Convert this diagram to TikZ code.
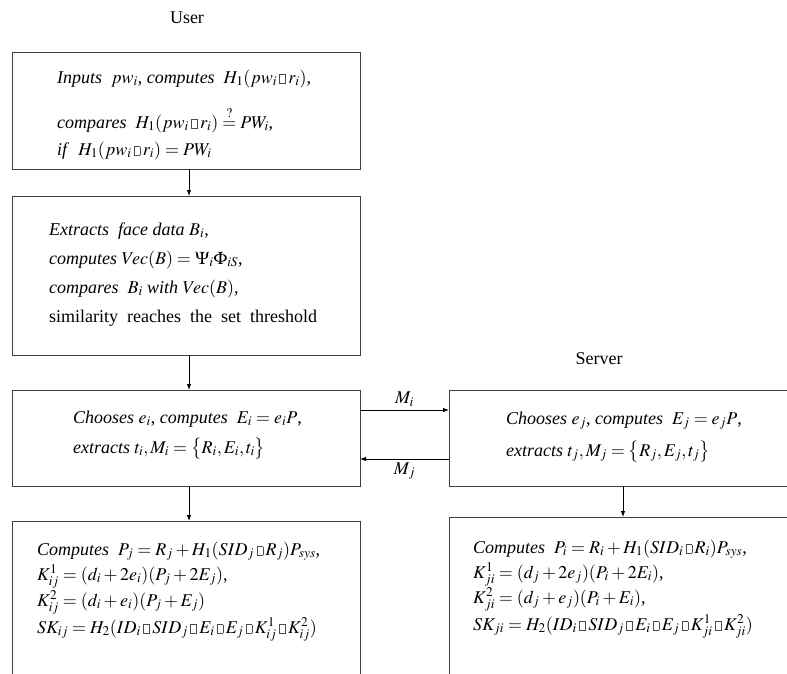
\documentclass[tikz,border=0pt]{standalone}
\usepackage{mathptmx}
\usepackage[no-math]{fontspec}
\setmainfont{Liberation Serif}
\usetikzlibrary{arrows.meta}
\newcommand{\fs}{\fontsize{18}{22}\selectfont}
\newcommand{\cc}{\mathbin{{\color{black!70}\fboxsep=0pt\fboxrule=0.5pt\fbox{\rule{0pt}{0.45em}\hspace{0.3em}}}}}
\begin{document}
\begin{tikzpicture}[x=1pt,y=-1pt,
  box/.style={draw=black!75,line width=0.9pt,inner sep=0,outer sep=0},
  txt/.style={anchor=base west,inner sep=0,font=\fs},
  lbl/.style={anchor=base,inner sep=0,font=\fs},
  arr/.style={-{Latex[length=6pt,width=4.5pt]},line width=0.8pt}]
\useasboundingbox (0,0) rectangle (787,673);
\clip (0,0) rectangle (787,673);
% boxes
\node[box,minimum width=348,minimum height=117] (b1) at (186,110.5) {};
\node[box,minimum width=348,minimum height=159] (b2) at (186,275.5) {};
\node[box,minimum width=348,minimum height=96] (b3) at (186,438) {};
\node[box,minimum width=361,minimum height=96] (b4) at (629.5,438) {};
\node[box,minimum width=348,minimum height=179] (b5) at (186,610.5) {};
\node[box,minimum width=361,minimum height=183] (b6) at (629.5,608.5) {};
% titles
\node[lbl] (user) at (187,23) {User};
\node[lbl] (server) at (599,364) {Server};
% box 1
\node[txt] (t11) at (57,83) {\textit{Inputs}~ $pw_i$, \textit{computes}~ $H_1(pw_i\cc r_i)$,};
\node[txt] (t12) at (57,128) {\textit{compares}~ $H_1(pw_i\cc r_i)\stackrel{?}{=}PW_i$,};
\node[txt] (t13) at (57,155) {\textit{if}~ $H_1(pw_i\cc r_i)=PW_i$};
% box 2
\node[txt] (t21) at (49,235) {\textit{Extracts}~ \textit{face data} $B_i$,};
\node[txt] (t22) at (49,264) {\textit{computes} $Vec(B)=\Psi_i\Phi_{iS}$,};
\node[txt] (t23) at (49,293) {\textit{compares}~ $B_i$ \textit{with} $Vec(B)$,};
\node[txt] (t24) at (49,322) {similarity~ reaches~ the~ set~ threshold};
% box 3
\node[txt] (t31) at (73,423) {\textit{Chooses} $e_i$, \textit{computes}~ $E_i=e_iP$,};
\node[txt] (t32) at (73,453) {\textit{extracts} $t_i, M_i =\bigl\{R_i,E_i,t_i\bigr\}$};
% box 4
\node[txt] (t41) at (506,424) {\textit{Chooses} $e_j$, \textit{computes}~ $E_j=e_jP$,};
\node[txt] (t42) at (506,456) {\textit{extracts} $t_j, M_j =\bigl\{R_j,E_j,t_j\bigr\}$};
% box 5
\node[txt] (t51) at (37,555) {\textit{Computes}~ $P_j=R_j+H_1(SID_j\cc R_j)P_{sys}$,};
\node[txt] (t52) at (37,580) {$K_{ij}^1=(d_i+2e_i)(P_j+2E_j)$,};
\node[txt] (t53) at (37,606) {$K_{ij}^2=(d_i+e_i)(P_j+E_j)$};
\node[txt] (t54) at (37,633) {$SK_{ij}=H_2(ID_i\cc SID_j\cc E_i\cc E_j\cc K_{ij}^1\cc K_{ij}^2)$};
% box 6
\node[txt] (t61) at (473,553) {\textit{Computes}~ $P_i=R_i+H_1(SID_i\cc R_i)P_{sys}$,};
\node[txt] (t62) at (473,578) {$K_{ji}^1=(d_j+2e_j)(P_i+2E_i)$,};
\node[txt] (t63) at (473,603) {$K_{ji}^2=(d_j+e_j)(P_i+E_i)$,};
\node[txt] (t64) at (473,630) {$SK_{ji}=H_2(ID_i\cc SID_j\cc E_i\cc E_j\cc K_{ji}^1\cc K_{ji}^2)$};
% connectors
\draw[arr] ([xshift=3]b1.south) -- ([xshift=3]b2.north);
\draw[arr] ([xshift=3]b2.south) -- ([xshift=3]b3.north);
\draw[arr] ([xshift=3]b3.south) -- ([xshift=3]b5.north);
\draw[arr] ([xshift=-6.5]b4.south) -- ([xshift=-6.5]b6.north);
\draw[arr] ([yshift=28]b3.east) -- node[above=3pt,font=\fs,inner sep=0] (mi) {$M_i$} ([yshift=28]b4.west);
\draw[arr] ([yshift=-21]b4.west) -- node[below=3pt,font=\fs,inner sep=0] (mj) {$M_j$} ([yshift=-21]b3.east);
\end{tikzpicture}
\end{document}
